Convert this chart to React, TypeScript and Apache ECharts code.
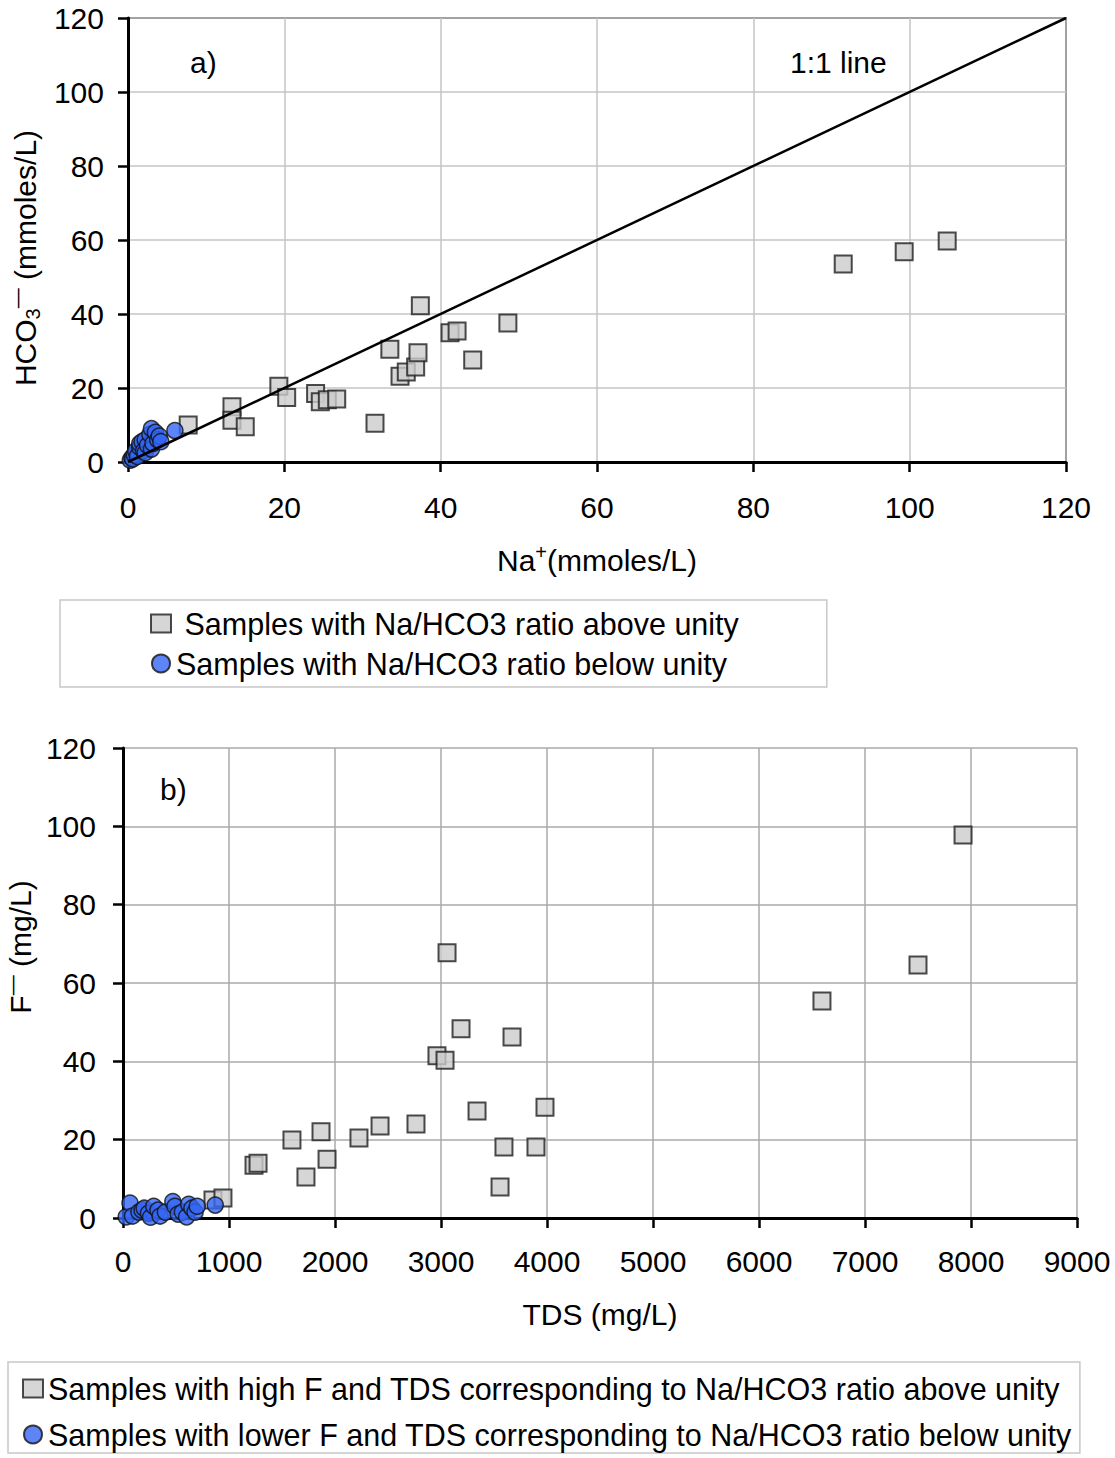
import React, { useEffect, useRef } from "react";
import * as echarts from "echarts";

const FONT = "'Liberation Sans', Arial, Helvetica, sans-serif";

// Chart a) Na+ vs HCO3-
const aAxisTicks = [0, 20, 40, 60, 80, 100, 120];
const aSquares: number[][] = [
  [7.7, 10], [13.3, 14.9], [13.3, 11.3], [15.0, 9.5], [19.3, 20.5], [20.3, 17.4],
  [24.0, 18.5], [24.6, 16.3], [25.5, 16.8], [26.7, 17.0], [31.6, 10.5], [33.5, 30.5],
  [34.8, 23.2], [35.6, 24.3], [36.8, 25.7], [37.1, 29.5], [37.4, 42.2], [41.2, 34.9],
  [42.1, 35.4], [44.1, 27.6], [48.6, 37.6], [91.5, 53.5], [99.3, 56.8], [104.8, 59.7],
];
const aCircles: number[][] = [
  [0.3, 0.5], [0.5, 1.2], [0.6, 0.8], [0.8, 2.0], [1.0, 3.0], [1.2, 1.5], [1.5, 4.0],
  [1.5, 5.0], [1.8, 5.5], [2.0, 3.0], [2.2, 2.5], [2.2, 6.0], [2.5, 4.5], [2.8, 7.5],
  [3.0, 9.0], [3.0, 3.5], [3.2, 5.0], [3.5, 8.0], [3.8, 6.0], [4.0, 7.0], [4.2, 5.5],
  [6.0, 8.5],
];
const oneToOne: number[][] = [[0, 0], [120, 120]];

// Chart b) TDS vs F-
const bSquares: number[][] = [
  [849, 4.6], [943, 5.1], [1236, 13.5], [1274, 14.0], [1594, 19.9], [1726, 10.5],
  [1868, 22.0], [1925, 15.0], [2226, 20.4], [2425, 23.5], [2764, 24.0], [2962, 41.4],
  [3038, 40.3], [3057, 67.7], [3189, 48.3], [3340, 27.3], [3557, 7.9], [3594, 18.1],
  [3670, 46.2], [3896, 18.1], [3981, 28.3], [6594, 55.4], [7500, 64.6], [7925, 97.8],
];
const bCircles: number[][] = [
  [30, 0.3], [66, 3.8], [90, 0.5], [150, 1.5], [180, 2.0], [200, 2.5], [240, 1.2],
  [260, 0.2], [290, 3.0], [330, 2.0], [350, 0.5], [400, 1.5], [470, 4.2], [490, 3.0],
  [520, 1.0], [560, 1.5], [600, 0.3], [620, 3.5], [650, 2.5], [680, 1.5], [700, 3.0],
  [870, 3.3],
];

const nameA1 = "Samples with Na/HCO3 ratio above unity";
const nameA2 = "Samples with Na/HCO3 ratio below unity";
const nameB1 = "Samples with high F and TDS corresponding to Na/HCO3 ratio above unity";
const nameB2 = "Samples with lower F and TDS corresponding to Na/HCO3 ratio below unity";

const squareStyle = { color: "#cccccc", borderColor: "#1e1e1e", borderWidth: 2 };
const circleStyle = { color: "#3466f5", borderColor: "#111111", borderWidth: 1.5 };

const richName = {
  b: { fontSize: 30, fontFamily: FONT, color: "#000", lineHeight: 36 },
  sup: { fontSize: 20, fontFamily: FONT, color: "#000", lineHeight: 18, verticalAlign: "top" },
  sub: { fontSize: 20, fontFamily: FONT, color: "#000", lineHeight: 18, verticalAlign: "bottom" },
};

function valueAxis(extra: any, gridColor: string, namePadding: number[] = [0, 0, 0, 0]) {
  return {
    type: "value",
    axisLine: { show: true, lineStyle: { color: "#000", width: 3 } },
    axisTick: { show: true, inside: false, length: 10, lineStyle: { color: "#000", width: 2.5 } },
    splitLine: { show: true, lineStyle: { color: gridColor, width: 1.5 } },
    nameLocation: "middle",
    nameTextStyle: { fontSize: 30, color: "#000", fontFamily: FONT, rich: richName, padding: namePadding },
    ...extra,
  };
}

const plainLabel = (v: number) => String(v);

export default function App() {
  const ref = useRef<HTMLDivElement>(null);
  useEffect(() => {
    if (!ref.current) return;
    const chart = echarts.init(ref.current, null, { renderer: "svg" });
    chart.setOption({
      animation: false,
      backgroundColor: "#ffffff",
      textStyle: { fontFamily: FONT },
      grid: [
        { left: 128, top: 18, right: 49, height: 444, show: true, borderColor: "#000", borderWidth: 1.5, backgroundColor: "transparent", outerBoundsMode: "none", containLabel: false },
        { left: 123, top: 748, right: 38, height: 470, outerBoundsMode: "none", containLabel: false },
      ],
      xAxis: [
        valueAxis({
          gridIndex: 0, min: aAxisTicks[0], max: aAxisTicks[aAxisTicks.length - 1], interval: 20,
          name: "{b|Na}{sup|+}{b|(mmoles/L)}", nameGap: 80,
          axisLabel: { fontSize: 30, color: "#000", fontFamily: FONT, margin: 30, formatter: plainLabel },
        }, "#c4c4c4"),
        valueAxis({
          gridIndex: 1, min: 0, max: 9000, interval: 1000,
          name: "{b|TDS (mg/L)}", nameGap: 78,
          axisLabel: { fontSize: 30, color: "#000", fontFamily: FONT, margin: 28, formatter: plainLabel },
        }, "#aaaaaa"),
      ],
      yAxis: [
        valueAxis({
          gridIndex: 0, min: 0, max: 120, interval: 20,
          name: "{b|HCO}{sub|3}{sup|—}{b| (mmoles/L)}", nameGap: 80,
          axisLabel: { fontSize: 30, color: "#000", fontFamily: FONT, margin: 24, formatter: plainLabel },
        }, "#c4c4c4", [0, 36, 0, 0]),
        valueAxis({
          gridIndex: 1, min: 0, max: 120, interval: 20,
          name: "{b|F}{sup|—}{b| (mg/L)}", nameGap: 82,
          axisLabel: { fontSize: 30, color: "#000", fontFamily: FONT, margin: 27, formatter: plainLabel },
        }, "#aaaaaa", [0, 0, 0, 72]),
      ],
      legend: [
        {
          data: [{ name: nameA1, icon: "rect" }, { name: nameA2, icon: "circle" }],
          orient: "vertical", left: 60, top: 600, padding: [8, 88, 8, 90],
          itemGap: 9, itemWidth: 20, itemHeight: 18,
          borderColor: "#c8c8c8", borderWidth: 1.5,
          formatter: (n: string) => (n === nameA1 ? " " + n : n),
          textStyle: { fontSize: 30.5, color: "#000", fontFamily: FONT },
        },
        {
          data: [{ name: nameB1, icon: "rect" }, { name: nameB2, icon: "circle" }],
          orient: "vertical", left: 8, top: 1362, padding: [11, 8, 3, 14],
          itemGap: 15, itemWidth: 20, itemHeight: 18,
          borderColor: "#c8c8c8", borderWidth: 1.5,
          textStyle: { fontSize: 30.5, color: "#000", fontFamily: FONT },
        },
      ],
      series: [
        { name: nameA1, type: "scatter", xAxisIndex: 0, yAxisIndex: 0, symbol: "rect", symbolSize: 17, itemStyle: squareStyle, data: aSquares },
        { name: nameA2, type: "scatter", xAxisIndex: 0, yAxisIndex: 0, symbol: "circle", symbolSize: 16, itemStyle: circleStyle, data: aCircles },
        { name: "1:1 line", type: "line", xAxisIndex: 0, yAxisIndex: 0, showSymbol: false, silent: true, lineStyle: { color: "#000", width: 2.5 }, data: oneToOne, z: 5 },
        { name: nameB1, type: "scatter", xAxisIndex: 1, yAxisIndex: 1, symbol: "rect", symbolSize: 17, itemStyle: squareStyle, data: bSquares },
        { name: nameB2, type: "scatter", xAxisIndex: 1, yAxisIndex: 1, symbol: "circle", symbolSize: 16, itemStyle: circleStyle, data: bCircles },
      ],
      graphic: [
        { type: "text", left: 190, top: 47, style: { text: "a)", fontSize: 30, fill: "#000", fontFamily: FONT } },
        { type: "text", left: 790, top: 47, style: { text: "1:1 line", fontSize: 30, fill: "#000", fontFamily: FONT } },
        { type: "text", left: 160, top: 774, style: { text: "b)", fontSize: 30, fill: "#000", fontFamily: FONT } },
      ],
    });
    return () => chart.dispose();
  }, []);
  return (
    <div
      ref={ref}
      style={{ position: "absolute", left: 0, top: 0, width: 1115, height: 1458, background: "#fff" }}
    />
  );
}
